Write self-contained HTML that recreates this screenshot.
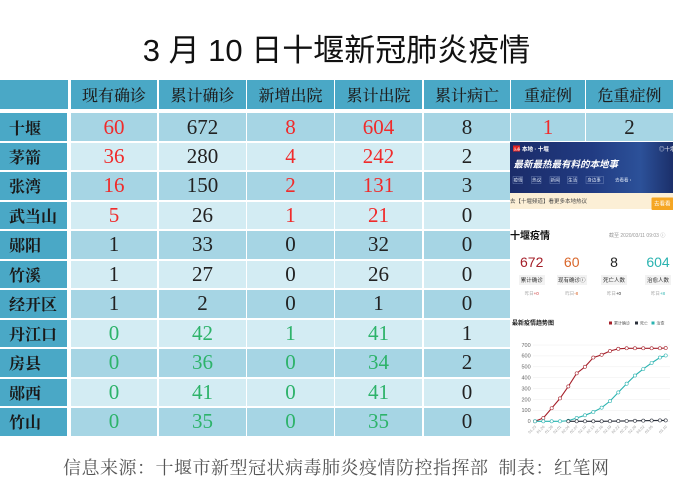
<!DOCTYPE html>
<html><head><meta charset="utf-8">
<style>
html,body{margin:0;padding:0;background:#fff;}
body{width:673px;height:500px;position:relative;overflow:hidden;}
.t{position:absolute;left:0;top:31px;width:673px;text-align:center;font-family:"Liberation Sans","Noto Sans CJK SC",sans-serif;font-size:31px;line-height:40px;color:#111;}
.c{position:absolute;display:flex;align-items:center;justify-content:center;box-sizing:border-box;}
.h{background:#4aa8c6;font-family:"Liberation Serif","Noto Serif CJK SC",serif;font-size:16px;color:#1e1e1e;font-weight:500;}
.l{background:#4aa8c6;font-family:"Liberation Serif","Noto Serif CJK SC",serif;font-size:16px;color:#1a1a1a;font-weight:700;justify-content:flex-start;padding-left:9px;}
.d{font-family:"Liberation Serif","Noto Serif CJK SC",serif;font-size:21px;color:#222;}
.a{background:#a6d5e4;}
.b{background:#d3ecf3;}
.r{color:#f02b2b;}
.g{color:#2db36a;}
.f{position:absolute;left:63px;top:456px;font-family:"Liberation Serif","Noto Serif CJK SC",serif;font-size:18px;letter-spacing:0.5px;color:#555;white-space:nowrap;line-height:24px;}
</style></head><body>
<div class="t">3 月 10 日十堰新冠肺炎疫情</div>

<!-- header -->
<div class="c h" style="left:0;top:80px;width:68px;height:29px;"></div>
<div class="c h" style="left:71px;top:80px;width:86px;height:29px;">现有确诊</div>
<div class="c h" style="left:159px;top:80px;width:87px;height:29px;">累计确诊</div>
<div class="c h" style="left:247px;top:80px;width:87px;height:29px;">新增出院</div>
<div class="c h" style="left:335px;top:80px;width:87px;height:29px;">累计出院</div>
<div class="c h" style="left:424px;top:80px;width:86px;height:29px;">累计病亡</div>
<div class="c h" style="left:511px;top:80px;width:74px;height:29px;">重症例</div>
<div class="c h" style="left:586px;top:80px;width:87px;height:29px;">危重症例</div>

<!-- rows -->
<div id="rows"></div>
<script>
(function(){
var data=[
["十堰",["60","r"],["672",""],["8","r"],["604","r"],["8",""],["1","r"],["2",""]],
["茅箭",["36","r"],["280",""],["4","r"],["242","r"],["2",""]],
["张湾",["16","r"],["150",""],["2","r"],["131","r"],["3",""]],
["武当山",["5","r"],["26",""],["1","r"],["21","r"],["0",""]],
["郧阳",["1",""],["33",""],["0",""],["32",""],["0",""]],
["竹溪",["1",""],["27",""],["0",""],["26",""],["0",""]],
["经开区",["1",""],["2",""],["0",""],["1",""],["0",""]],
["丹江口",["0","g"],["42","g"],["1","g"],["41","g"],["1",""]],
["房县",["0","g"],["36","g"],["0","g"],["34","g"],["2",""]],
["郧西",["0","g"],["41","g"],["0","g"],["41","g"],["0",""]],
["竹山",["0","g"],["35","g"],["0","g"],["35","g"],["0",""]]
];
var cols=[[71,86],[159,87],[247,87],[335,87],[424,86],[511,74],[586,87]];
var h="";
for(var i=0;i<data.length;i++){
 var ty=(113.3+i*29.47).toFixed(1);
 var bg=(i%2==0)?"a":"b";
 h+='<div class="c l" style="left:0;top:'+ty+'px;width:67px;height:27.5px;">'+data[i][0]+'</div>';
 for(var j=1;j<data[i].length;j++){
  var c=cols[j-1];
  h+='<div class="c d '+bg+' '+data[i][j][1]+'" style="left:'+c[0]+'px;top:'+ty+'px;width:'+c[1]+'px;height:27.5px;">'+data[i][j][0]+'</div>';
 }
}
document.getElementById("rows").innerHTML=h;
})();
</script>

<!-- inset screenshot -->
<svg style="position:absolute;left:510px;top:142px;" width="163" height="300" viewBox="0 0 163 300" font-family="Liberation Sans, Noto Sans CJK SC, sans-serif">
<defs>
<linearGradient id="bg" x1="0" y1="0" x2="1" y2="0">
<stop offset="0" stop-color="#1b2c69"/><stop offset="0.5" stop-color="#213b82"/><stop offset="0.8" stop-color="#2c5199"/><stop offset="1" stop-color="#1b2f6a"/>
</linearGradient>
</defs>
<rect x="0" y="0" width="163" height="300" fill="#fff"/>
<rect x="0" y="0" width="163" height="51" fill="url(#bg)"/>
<rect x="3" y="3.5" width="7" height="6" fill="#e02020"/>
<text x="3.5" y="8.5" font-size="3.5" fill="#fff">头条</text>
<text x="12" y="9" font-size="5.5" fill="#fff" font-weight="bold">本地 · 十堰</text>
<text x="149" y="9" font-size="5.5" fill="#fff">◎十堰</text>
<text x="3.5" y="25.5" font-size="9.5" fill="#fff" font-weight="bold" font-style="italic">最新最热最有料的本地事</text>
<g font-size="4.5" fill="#dde6f5">
<rect x="3" y="34.5" width="9.5" height="7" fill="none" stroke="#7f95c4" stroke-width="0.4"/><text x="3.6" y="39.7">疫情</text>
<rect x="21.5" y="34.5" width="9.5" height="7" fill="none" stroke="#7f95c4" stroke-width="0.4"/><text x="22.1" y="39.7">热议</text>
<rect x="40" y="34.5" width="9.5" height="7" fill="none" stroke="#7f95c4" stroke-width="0.4"/><text x="40.6" y="39.7">新闻</text>
<rect x="57.5" y="34.5" width="9.5" height="7" fill="none" stroke="#7f95c4" stroke-width="0.4"/><text x="58.1" y="39.7">生活</text>
<rect x="76" y="34.5" width="17.5" height="7" fill="none" stroke="#7f95c4" stroke-width="0.4"/><text x="77.3" y="39.7">身边事</text>
<text x="105" y="39.7">去看看 ›</text>
</g>
<rect x="0" y="51" width="163" height="16" fill="#fcefd6"/>
<text x="0" y="61" font-size="5.5" fill="#444">去【十堰频道】看更多本地热议</text>
<rect x="141.5" y="55.5" width="22" height="12.5" rx="1" fill="#f5a623"/>
<text x="144" y="63.5" font-size="5.5" fill="#fff">去看看</text>

<text x="0" y="97" font-size="10" font-weight="bold" fill="#111" font-family="Noto Sans CJK SC, sans-serif">十堰疫情</text>
<text x="99" y="95" font-size="5" fill="#999">截至 2020/03/11 09:03 ⓘ</text>

<g font-family="Liberation Sans Narrow, Liberation Sans, sans-serif" font-size="14" text-anchor="middle">
<text x="21.7" y="125" fill="#a5202a">672</text>
<text x="61.7" y="125" fill="#d9662a">60</text>
<text x="104" y="125" fill="#222">8</text>
<text x="148" y="125" fill="#2ab3b0">604</text>
</g>
<g font-size="5.5" text-anchor="middle" fill="#333">
<rect x="9" y="133" width="26" height="10" fill="#f2f2f2"/><text x="21.7" y="140">累计确诊</text>
<rect x="47" y="133" width="30" height="10" fill="#f2f2f2"/><text x="61.7" y="140">现有确诊ⓘ</text>
<rect x="91" y="133" width="26" height="10" fill="#f2f2f2"/><text x="104" y="140">死亡人数</text>
<rect x="135" y="133" width="26" height="10" fill="#f2f2f2"/><text x="148" y="140">治愈人数</text>
</g>
<g font-size="4.5" text-anchor="middle" fill="#aaa">
<text x="21.7" y="153">昨日<tspan fill="#c33">+0</tspan></text>
<text x="61.7" y="153">昨日<tspan fill="#d9662a">-8</tspan></text>
<text x="104" y="153">昨日<tspan fill="#222">+0</tspan></text>
<text x="148" y="153">昨日<tspan fill="#2ab3b0">+8</tspan></text>
</g>

<text x="2" y="183" font-size="6" font-weight="bold" fill="#222">最新疫情趋势图</text>
<g font-size="4" fill="#555">
<rect x="99" y="179.5" width="3" height="3" fill="#a5202a"/><text x="104" y="182.5">累计确诊</text>
<rect x="125" y="179.5" width="3" height="3" fill="#2a2f3a"/><text x="130" y="182.5">死亡</text>
<rect x="141.5" y="179.5" width="3" height="3" fill="#2ab3b0"/><text x="146.5" y="182.5">治愈</text>
</g>
<g id="chart"></g>
</svg>
<script>
(function(){
var g=document.getElementById("chart");
function Y(v){return 279.3-v*0.109;}
function X(i){return i<16?25+i*8.33:155.7;}
var s="";
for(var k=0;k<=7;k++){
 var y=Y(k*100);
 s+='<line x1="23" x2="160" y1="'+y+'" y2="'+y+'" stroke="#eee" stroke-width="0.5"/>';
 s+='<text x="20.7" y="'+(y+1.8)+'" font-size="5.5" fill="#666" text-anchor="end">'+(k*100)+'</text>';
}
var red=[0,30,120,210,320,440,500,585,610,645,665,670,670,670,670,670,672];
var teal=[0,0,0,0,5,30,55,85,125,185,265,345,420,480,535,585,604];
var blk=[null,null,null,null,0,0,0,0,0,1,2,3,5,6,7,8,8];
function series(arr,col){
 var pts=[];
 for(var i=0;i<arr.length;i++){if(arr[i]!==null)pts.push(X(i).toFixed(2)+","+Y(arr[i]).toFixed(2));}
 var o='<polyline points="'+pts.join(" ")+'" fill="none" stroke="'+col+'" stroke-width="1.1"/>';
 for(var i=0;i<arr.length;i++){if(arr[i]!==null)o+='<circle cx="'+X(i)+'" cy="'+Y(arr[i])+'" r="1.6" fill="#fff" stroke="'+col+'" stroke-width="0.6"/>';}
 return o;
}
s+=series(red,"#a5202a");
s+=series(teal,"#2ab3b0");
s+=series(blk,"#2a2f3a");
var dates=["01.23","01.26","01.29","02.01","02.04","02.07","02.10","02.13","02.16","02.19","02.22","02.25","02.28","03.02","03.05",null,"03.10"];
for(var i=0;i<dates.length;i++){
 if(!dates[i])continue;
 var x=X(i)+1.5,y=285;
 s+='<text x="'+x+'" y="'+y+'" font-size="3.8" fill="#999" text-anchor="end" transform="rotate(-45 '+x+' '+y+')">'+dates[i]+'</text>';
}
g.innerHTML=s;
})();
</script>

<div class="f">信息来源：十堰市新型冠状病毒肺炎疫情防控指挥部&nbsp;&nbsp;制表：红笔网</div>
</body></html>
